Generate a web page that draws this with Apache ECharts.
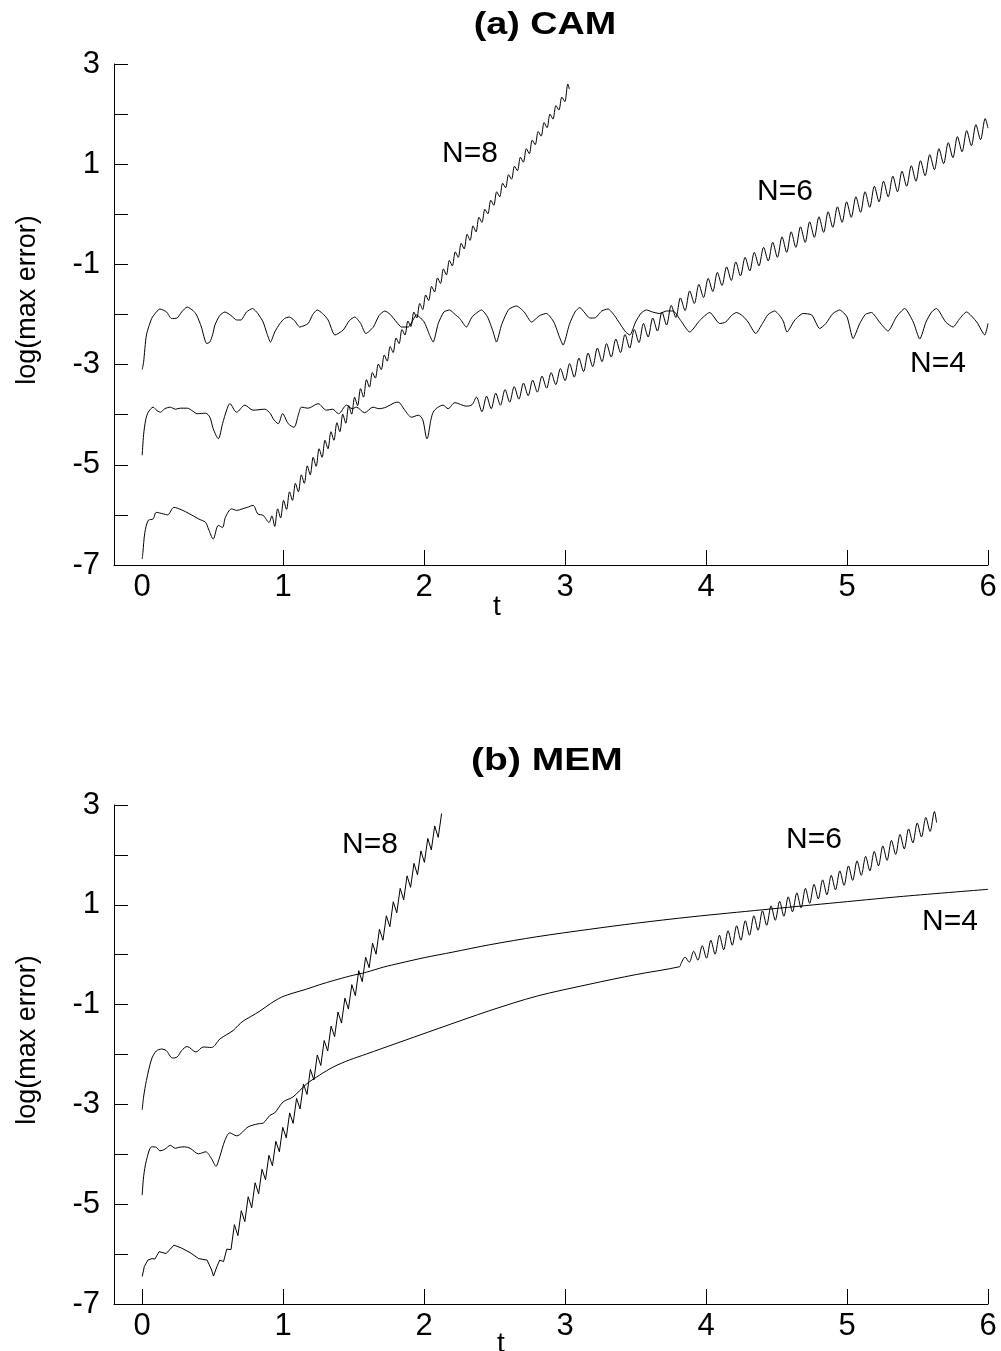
<!DOCTYPE html>
<html>
<head>
<meta charset="utf-8">
<script src="https://cdn.jsdelivr.net/npm/echarts@6/dist/echarts.min.js"></script>
<style>
  html, body { margin: 0; padding: 0; background: #ffffff; }
  #chart { width: 1001px; height: 1351px; }
</style>
</head>
<body>
<div id="chart"></div>
<script>
// ---- values: [t, log(max error)] ----
const xTickValues = [0, 1, 2, 3, 4, 5, 6];
const camXTicks = [1, 2, 3, 4, 5, 6];
const memXTicks = [0, 1, 2, 3, 4, 5, 6];

// (a) CAM
const camN4 = [[0,-3.1],[0.01,-2.95],[0.03,-2.41],[0.067,-2.08],[0.1,-1.95],[0.126,-1.89],[0.173,-1.95],[0.208,-2.08],[0.248,-2.07],[0.28,-1.95],[0.319,-1.85],[0.36,-1.92],[0.386,-2.01],[0.42,-2.25],[0.457,-2.58],[0.48,-2.55],[0.5,-2.4],[0.516,-2.21],[0.55,-2.02],[0.587,-1.95],[0.63,-2.02],[0.67,-2.11],[0.7,-2.11],[0.74,-1.95],[0.783,-1.88],[0.82,-1.98],[0.858,-2.15],[0.885,-2.38],[0.91,-2.55],[0.94,-2.35],[0.977,-2.18],[1.01,-2.08],[1.043,-2.05],[1.08,-2.12],[1.118,-2.25],[1.177,-2.18],[1.21,-2.0],[1.241,-1.91],[1.28,-1.98],[1.319,-2.11],[1.367,-2.41],[1.426,-2.31],[1.47,-2.12],[1.508,-2.05],[1.55,-2.18],[1.586,-2.38],[1.64,-2.25],[1.68,-2.02],[1.721,-1.93],[1.76,-2.0],[1.804,-2.15],[1.84,-2.25],[1.887,-2.25],[1.946,-2.01],[2.0,-2.15],[2.04,-2.42],[2.064,-2.55],[2.1,-2.18],[2.14,-1.95],[2.18,-1.91],[2.22,-2.0],[2.253,-2.08],[2.3,-2.25],[2.34,-2.05],[2.407,-1.91],[2.45,-2.05],[2.49,-2.35],[2.513,-2.55],[2.55,-2.2],[2.6,-1.9],[2.655,-1.83],[2.71,-1.95],[2.762,-2.15],[2.82,-2.02],[2.868,-1.98],[2.92,-2.15],[2.96,-2.45],[2.986,-2.61],[3.03,-2.2],[3.07,-1.95],[3.104,-1.86],[3.14,-1.97],[3.175,-2.07],[3.21,-2.07],[3.26,-1.93],[3.305,-1.89],[3.35,-2.02],[3.388,-2.18],[3.43,-2.35],[3.459,-2.41],[3.5,-2.15],[3.54,-1.97],[3.577,-1.91],[3.62,-1.95],[3.67,-1.98],[3.72,-1.93],[3.766,-1.93],[3.82,-2.12],[3.884,-2.35],[3.955,-2.12],[4.026,-1.96],[4.097,-2.18],[4.14,-2.15],[4.18,-2.02],[4.216,-1.96],[4.26,-2.03],[4.298,-2.15],[4.352,-2.38],[4.4,-2.18],[4.44,-2.0],[4.487,-1.93],[4.53,-2.05],[4.55,-2.15],[4.574,-2.35],[4.63,-2.11],[4.688,-1.98],[4.75,-2.01],[4.806,-2.28],[4.85,-2.18],[4.9,-1.98],[4.948,-1.91],[5.0,-2.05],[5.043,-2.48],[5.09,-2.18],[5.13,-2.0],[5.173,-1.96],[5.23,-2.15],[5.291,-2.33],[5.35,-2.05],[5.409,-1.88],[5.47,-2.15],[5.516,-2.49],[5.56,-2.15],[5.6,-1.95],[5.634,-1.88],[5.7,-2.15],[5.752,-2.25],[5.8,-2.08],[5.847,-1.95],[5.92,-2.15],[5.977,-2.41],[6.0,-2.18]];

const camN6Head = [[0,-4.81],[0.01,-4.4],[0.025,-4.1],[0.043,-3.95],[0.078,-3.85],[0.105,-3.92],[0.13,-3.95],[0.16,-3.88],[0.2,-3.85],[0.235,-3.89],[0.27,-3.87],[0.32,-3.87],[0.36,-3.93],[0.39,-3.98],[0.45,-3.97],[0.48,-4.05],[0.504,-4.28],[0.54,-4.48],[0.57,-4.18],[0.6,-3.9],[0.622,-3.78],[0.67,-3.95],[0.728,-3.81],[0.787,-3.91],[0.87,-3.89],[0.91,-3.98],[0.929,-4.08],[0.965,-4.18],[0.996,-3.98],[1.036,-4.18],[1.076,-4.25],[1.11,-3.98],[1.13,-3.85],[1.177,-3.87],[1.248,-3.78],[1.307,-3.91],[1.35,-3.89],[1.393,-3.98],[1.45,-3.81],[1.49,-3.88],[1.519,-3.85],[1.578,-3.96],[1.637,-3.85],[1.68,-3.88],[1.73,-3.85],[1.79,-3.76],[1.816,-3.75],[1.863,-3.91],[1.91,-4.05],[1.96,-4.01],[1.99,-4.1],[2.02,-4.48],[2.064,-3.95],[2.135,-3.81],[2.17,-3.88],[2.218,-3.76],[2.3,-3.83],[2.34,-3.8],[2.371,-3.65]];

const camN6Tail = [[2.41,-3.94],[2.443,-3.63],[2.476,-3.88],[2.508,-3.57],[2.541,-3.81],[2.574,-3.5],[2.607,-3.75],[2.639,-3.44],[2.672,-3.69],[2.705,-3.37],[2.738,-3.62],[2.77,-3.31],[2.803,-3.55],[2.836,-3.23],[2.869,-3.47],[2.901,-3.16],[2.934,-3.4],[2.967,-3.08],[3.0,-3.32],[3.032,-2.98],[3.065,-3.25],[3.098,-2.87],[3.131,-3.14],[3.163,-2.77],[3.196,-3.04],[3.229,-2.67],[3.262,-2.94],[3.294,-2.58],[3.327,-2.85],[3.36,-2.49],[3.393,-2.76],[3.425,-2.4],[3.458,-2.67],[3.491,-2.3],[3.524,-2.56],[3.556,-2.18],[3.589,-2.45],[3.622,-2.07],[3.655,-2.33],[3.687,-1.95],[3.72,-2.21],[3.753,-1.82],[3.786,-2.06],[3.818,-1.67],[3.851,-1.92],[3.884,-1.53],[3.917,-1.78],[3.949,-1.4],[3.982,-1.66],[4.015,-1.28],[4.048,-1.54],[4.08,-1.16],[4.113,-1.42],[4.146,-1.05],[4.179,-1.32],[4.211,-0.95],[4.244,-1.23],[4.277,-0.86],[4.31,-1.13],[4.342,-0.76],[4.375,-1.03],[4.408,-0.66],[4.441,-0.93],[4.473,-0.56],[4.506,-0.86],[4.539,-0.45],[4.572,-0.76],[4.604,-0.35],[4.637,-0.66],[4.67,-0.25],[4.703,-0.56],[4.735,-0.15],[4.768,-0.46],[4.801,-0.05],[4.834,-0.36],[4.866,0.05],[4.899,-0.26],[4.932,0.15],[4.965,-0.16],[4.997,0.25],[5.03,-0.06],[5.063,0.35],[5.096,0.04],[5.128,0.45],[5.161,0.14],[5.194,0.56],[5.227,0.25],[5.259,0.66],[5.292,0.35],[5.325,0.76],[5.358,0.45],[5.39,0.86],[5.423,0.56],[5.456,0.97],[5.489,0.66],[5.521,1.07],[5.554,0.77],[5.587,1.19],[5.62,0.89],[5.652,1.31],[5.685,1.01],[5.718,1.43],[5.751,1.13],[5.783,1.55],[5.816,1.25],[5.849,1.67],[5.882,1.37],[5.914,1.79],[5.947,1.49],[5.98,1.91],[6.0,1.72]];

const camN8Head = [[0,-6.88],[0.005,-6.75],[0.019,-6.35],[0.043,-6.11],[0.078,-6.08],[0.1,-5.95],[0.15,-5.98],[0.18,-6.0],[0.225,-5.85],[0.28,-5.9],[0.33,-5.97],[0.4,-6.08],[0.45,-6.15],[0.47,-6.28],[0.504,-6.48],[0.54,-6.21],[0.57,-6.25],[0.59,-6.05],[0.634,-5.88],[0.67,-5.91],[0.71,-5.88],[0.745,-5.85],[0.787,-5.81],[0.82,-5.98],[0.858,-6.01],[0.9,-6.15],[0.92,-6.02]];

const camN8Tail = [[0.94,-6.23],[0.961,-5.88],[0.982,-6.06],[1.003,-5.71],[1.024,-5.89],[1.045,-5.54],[1.066,-5.71],[1.087,-5.37],[1.108,-5.54],[1.129,-5.2],[1.15,-5.37],[1.171,-5.02],[1.192,-5.2],[1.213,-4.85],[1.234,-5.03],[1.255,-4.68],[1.276,-4.85],[1.297,-4.51],[1.318,-4.68],[1.339,-4.34],[1.36,-4.51],[1.381,-4.16],[1.402,-4.34],[1.423,-3.99],[1.444,-4.17],[1.465,-3.82],[1.486,-3.99],[1.507,-3.65],[1.528,-3.82],[1.549,-3.48],[1.57,-3.65],[1.591,-3.3],[1.612,-3.45],[1.633,-3.16],[1.654,-3.27],[1.675,-2.99],[1.696,-3.1],[1.717,-2.81],[1.738,-2.93],[1.759,-2.64],[1.78,-2.76],[1.801,-2.47],[1.822,-2.58],[1.843,-2.3],[1.864,-2.41],[1.885,-2.13],[1.906,-2.24],[1.927,-1.95],[1.948,-2.07],[1.969,-1.78],[1.99,-1.9],[2.011,-1.61],[2.032,-1.72],[2.053,-1.44],[2.074,-1.55],[2.095,-1.27],[2.116,-1.38],[2.137,-1.09],[2.158,-1.21],[2.179,-0.92],[2.2,-1.03],[2.221,-0.75],[2.242,-0.86],[2.263,-0.58],[2.284,-0.69],[2.305,-0.4],[2.326,-0.52],[2.347,-0.23],[2.368,-0.35],[2.389,-0.06],[2.41,-0.16],[2.431,0.1],[2.452,0.01],[2.473,0.28],[2.494,0.18],[2.515,0.45],[2.536,0.35],[2.557,0.62],[2.578,0.53],[2.599,0.79],[2.62,0.7],[2.641,0.96],[2.662,0.87],[2.683,1.14],[2.704,1.04],[2.725,1.31],[2.746,1.21],[2.767,1.48],[2.788,1.39],[2.809,1.65],[2.83,1.56],[2.851,1.83],[2.872,1.73],[2.893,2.0],[2.914,1.9],[2.935,2.17],[2.956,2.08],[2.977,2.34],[2.998,2.25],[3.019,2.6],[3.03,2.5]];

// (b) MEM
const memN4 = [[0,-3.11],[0.01,-2.85],[0.03,-2.52],[0.067,-2.09],[0.1,-1.93],[0.138,-1.89],[0.17,-1.92],[0.215,-2.07],[0.248,-2.05],[0.28,-1.92],[0.319,-1.84],[0.381,-1.95],[0.433,-1.85],[0.492,-1.86],[0.551,-1.69],[0.6,-1.6],[0.645,-1.52],[0.68,-1.42],[0.716,-1.33],[0.77,-1.24],[0.835,-1.13],[0.91,-0.98],[0.989,-0.85],[1.07,-0.77],[1.166,-0.69],[1.26,-0.6],[1.355,-0.52],[1.47,-0.43],[1.591,-0.35],[1.71,-0.25],[1.828,-0.17],[2.0,-0.06],[2.2,0.05],[2.466,0.2],[2.8,0.36],[3.175,0.51],[3.5,0.63],[3.9,0.76],[4.4,0.9],[4.877,1.03],[5.4,1.17],[6.0,1.31]];

const memN6Head = [[0,-4.82],[0.01,-4.45],[0.03,-4.12],[0.067,-3.85],[0.1,-3.86],[0.126,-3.93],[0.16,-3.9],[0.2,-3.82],[0.235,-3.88],[0.26,-3.86],[0.3,-3.85],[0.34,-3.88],[0.4,-3.99],[0.45,-3.95],[0.492,-4.09],[0.523,-4.24],[0.55,-4.05],[0.587,-3.72],[0.622,-3.57],[0.67,-3.63],[0.752,-3.45],[0.82,-3.39],[0.86,-3.37],[0.906,-3.22],[0.94,-3.17],[1.0,-2.95],[1.07,-2.85],[1.166,-2.59],[1.26,-2.41],[1.355,-2.25],[1.47,-2.11],[1.591,-1.99],[1.8,-1.78],[2.1,-1.48],[2.466,-1.12],[2.8,-0.83],[3.175,-0.59],[3.5,-0.4],[3.813,-0.24]];

const memN6Tail = [[3.82,-0.19],[3.851,-0.05],[3.881,-0.15],[3.912,0.07],[3.942,-0.11],[3.973,0.18],[4.003,-0.07],[4.034,0.29],[4.064,0.01],[4.095,0.39],[4.125,0.1],[4.156,0.48],[4.186,0.19],[4.217,0.58],[4.247,0.29],[4.278,0.68],[4.308,0.39],[4.339,0.78],[4.369,0.49],[4.4,0.88],[4.43,0.59],[4.461,0.98],[4.491,0.69],[4.522,1.07],[4.552,0.77],[4.583,1.16],[4.613,0.86],[4.644,1.24],[4.674,0.94],[4.705,1.33],[4.735,1.03],[4.766,1.41],[4.796,1.12],[4.827,1.5],[4.857,1.2],[4.888,1.59],[4.918,1.3],[4.949,1.68],[4.979,1.39],[5.01,1.78],[5.04,1.49],[5.071,1.88],[5.101,1.59],[5.132,1.97],[5.162,1.68],[5.193,2.07],[5.223,1.78],[5.254,2.18],[5.284,1.89],[5.315,2.29],[5.345,2.01],[5.376,2.41],[5.406,2.12],[5.437,2.52],[5.467,2.24],[5.498,2.64],[5.528,2.36],[5.559,2.75],[5.589,2.47],[5.62,2.87],[5.635,2.65]];

const memN8Head = [[0,-6.45],[0.015,-6.25],[0.04,-6.12],[0.07,-6.09],[0.09,-6.1],[0.12,-5.95],[0.17,-5.99],[0.225,-5.82],[0.28,-5.88],[0.34,-5.97],[0.4,-6.09],[0.46,-6.12],[0.49,-6.3],[0.506,-6.44],[0.53,-6.25],[0.55,-6.12],[0.577,-6.15],[0.6,-5.9]];

const memN8Tail = [[0.63,-5.91],[0.654,-5.41],[0.679,-5.63],[0.703,-5.13],[0.728,-5.35],[0.752,-4.85],[0.777,-5.07],[0.801,-4.57],[0.826,-4.79],[0.85,-4.3],[0.875,-4.51],[0.899,-4.02],[0.924,-4.23],[0.948,-3.74],[0.973,-3.95],[0.997,-3.46],[1.022,-3.67],[1.046,-3.17],[1.071,-3.38],[1.095,-2.88],[1.12,-3.09],[1.144,-2.59],[1.169,-2.8],[1.193,-2.3],[1.218,-2.51],[1.242,-2.01],[1.267,-2.22],[1.291,-1.72],[1.316,-1.93],[1.34,-1.43],[1.365,-1.64],[1.389,-1.15],[1.414,-1.37],[1.438,-0.87],[1.463,-1.09],[1.487,-0.6],[1.512,-0.82],[1.536,-0.32],[1.561,-0.54],[1.585,-0.05],[1.61,-0.26],[1.634,0.23],[1.659,0.01],[1.683,0.51],[1.708,0.29],[1.732,0.78],[1.757,0.56],[1.781,1.06],[1.806,0.84],[1.83,1.33],[1.855,1.1],[1.879,1.58],[1.904,1.35],[1.928,1.83],[1.953,1.6],[1.977,2.08],[2.002,1.85],[2.026,2.33],[2.051,2.1],[2.075,2.58],[2.1,2.35],[2.124,2.83]];

// ---- drawing ----
const FONT = '"Liberation Sans", Arial, Helvetica, sans-serif';
const INK = '#000000';

function xAxisFor(gridIndex, ticks) {
  return {
    type: 'value', gridIndex: gridIndex, min: -0.2, max: 6,
    axisLine: { show: true, onZero: false, lineStyle: { color: INK, width: 1 } },
    axisTick: { show: true, inside: true, length: 15, customValues: ticks, lineStyle: { color: INK, width: 1 } },
    axisLabel: { customValues: xTickValues, color: INK, fontSize: 31, fontFamily: FONT, margin: 7 },
    splitLine: { show: false }
  };
}

function yAxisFor(gridIndex) {
  return {
    type: 'value', gridIndex: gridIndex, min: -7, max: 3, interval: 1,
    axisLine: { show: true, onZero: false, lineStyle: { color: INK, width: 1 } },
    axisTick: { show: true, inside: true, length: 14, lineStyle: { color: INK, width: 1 } },
    axisLabel: {
      color: INK, fontSize: 31, fontFamily: FONT, margin: 14,
      formatter: function (v) { return (((v % 2) + 2) % 2 === 1) ? String(v) : ''; }
    },
    splitLine: { show: false }
  };
}

// smooth > 0 rounds the wiggles into arches; the sharp sawtooth keeps straight segments
function curve(data, gridIndex, smooth) {
  return {
    type: 'line', data: data, xAxisIndex: gridIndex, yAxisIndex: gridIndex,
    showSymbol: false, symbol: 'none', smooth: smooth, clip: true,
    lineStyle: { color: INK, width: 1 }, emphasis: { disabled: true }
  };
}

function label(text, x, y, size, bold, rotation, stretch) {
  return {
    type: 'text', x: x, y: y, rotation: rotation || 0, scaleX: stretch || 1, silent: true,
    style: {
      text: text, fill: INK,
      font: (bold ? 'bold ' : '') + size + 'px ' + FONT,
      align: 'center', verticalAlign: 'middle',
      textAlign: 'center', textVerticalAlign: 'middle'
    }
  };
}

const chart = echarts.init(document.getElementById('chart'), null, { renderer: 'canvas' });
chart.setOption({
  animation: false,
  backgroundColor: '#ffffff',
  grid: [
    { left: 114, top: 64, width: 874, height: 501, containLabel: false },
    { left: 114, top: 805, width: 874, height: 499, containLabel: false }
  ],
  xAxis: [xAxisFor(0, camXTicks), xAxisFor(1, memXTicks)],
  yAxis: [yAxisFor(0), yAxisFor(1)],
  series: [
    curve(camN4, 0, 0.2),
    curve(camN6Head.concat(camN6Tail), 0, 0.3),
    curve(camN8Head.concat(camN8Tail), 0, 0.3),
    curve(memN4, 1, 0.3),
    curve(memN6Head.concat(memN6Tail), 1, 0.3),
    curve(memN8Head.concat(memN8Tail), 1, false)
  ],
  graphic: [
    label('(a) CAM', 545, 25, 32, true, 0, 1.18),
    label('(b) MEM', 547, 761, 32, true, 0, 1.22),
    label('log(max error)', 28, 300, 27, false, Math.PI / 2),
    label('log(max error)', 28, 1040, 27, false, Math.PI / 2),
    label('t', 497, 607, 28, false),
    label('t', 501, 1344, 28, false),
    label('N=8', 470, 154, 30, false),
    label('N=6', 785, 192, 30, false),
    label('N=4', 938, 364, 30, false),
    label('N=8', 370, 845, 30, false),
    label('N=6', 814, 840, 30, false),
    label('N=4', 950, 922, 30, false)
  ]
});
</script>
</body>
</html>
